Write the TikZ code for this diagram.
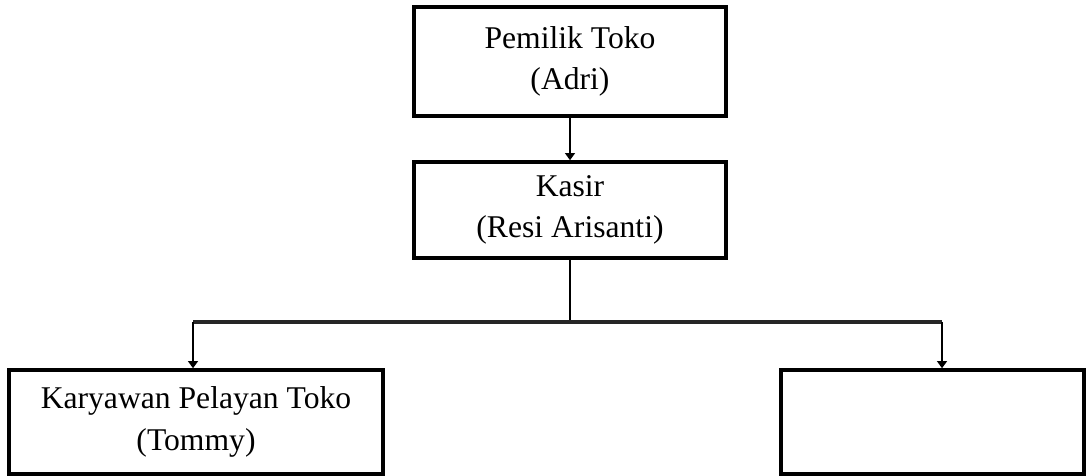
\documentclass[tikz,border=0pt]{standalone}
\usepackage{fontspec}
\setmainfont{Liberation Serif}
\usetikzlibrary{arrows.meta}

\begin{document}
\begin{tikzpicture}[
    kotak/.style={draw, line width=2pt, rectangle, inner sep=0pt, align=center,
                  font=\fontsize{18}{23.5}\selectfont},
    garis/.style={line width=1.6pt},
    panah/.style={line width=1.6pt, -{Triangle[length=4pt,width=5.5pt]}}
  ]
  \useasboundingbox (0,0) rectangle (21.72,9.5);

  % Pemilik toko
  \node[kotak, minimum width=6.24cm, minimum height=2.18cm] (pemilik) at (11.4,8.27) {Pemilik Toko\\(Adri)};

  % Kasir
  \node[kotak, minimum width=6.24cm, minimum height=1.92cm] (kasir) at (11.4,5.30) {Kasir\\(Resi Arisanti)};

  % Karyawan
  \node[kotak, minimum width=7.48cm, minimum height=2.08cm] (pelayan) at (3.92,1.06) {Karyawan Pelayan Toko\\(Tommy)};
  \node[kotak, minimum width=6.06cm, minimum height=2.08cm] (kosong) at (18.65,1.06) {};

  % Cabang garis
  \coordinate (cabang) at (11.4,3.06);
  \coordinate (kiri) at (3.86,3.06);
  \coordinate (kanan) at (18.84,3.06);

  \draw[panah] (pemilik) -- (kasir);
  \draw[garis] (kasir.south) -- (cabang);
  \draw[line width=2.2pt, black!85] (kiri) -- (kanan);
  \draw[panah] (kiri) -- (kiri |- pelayan.north);
  \draw[panah] (kanan) -- (kanan |- kosong.north);
\end{tikzpicture}
\end{document}
